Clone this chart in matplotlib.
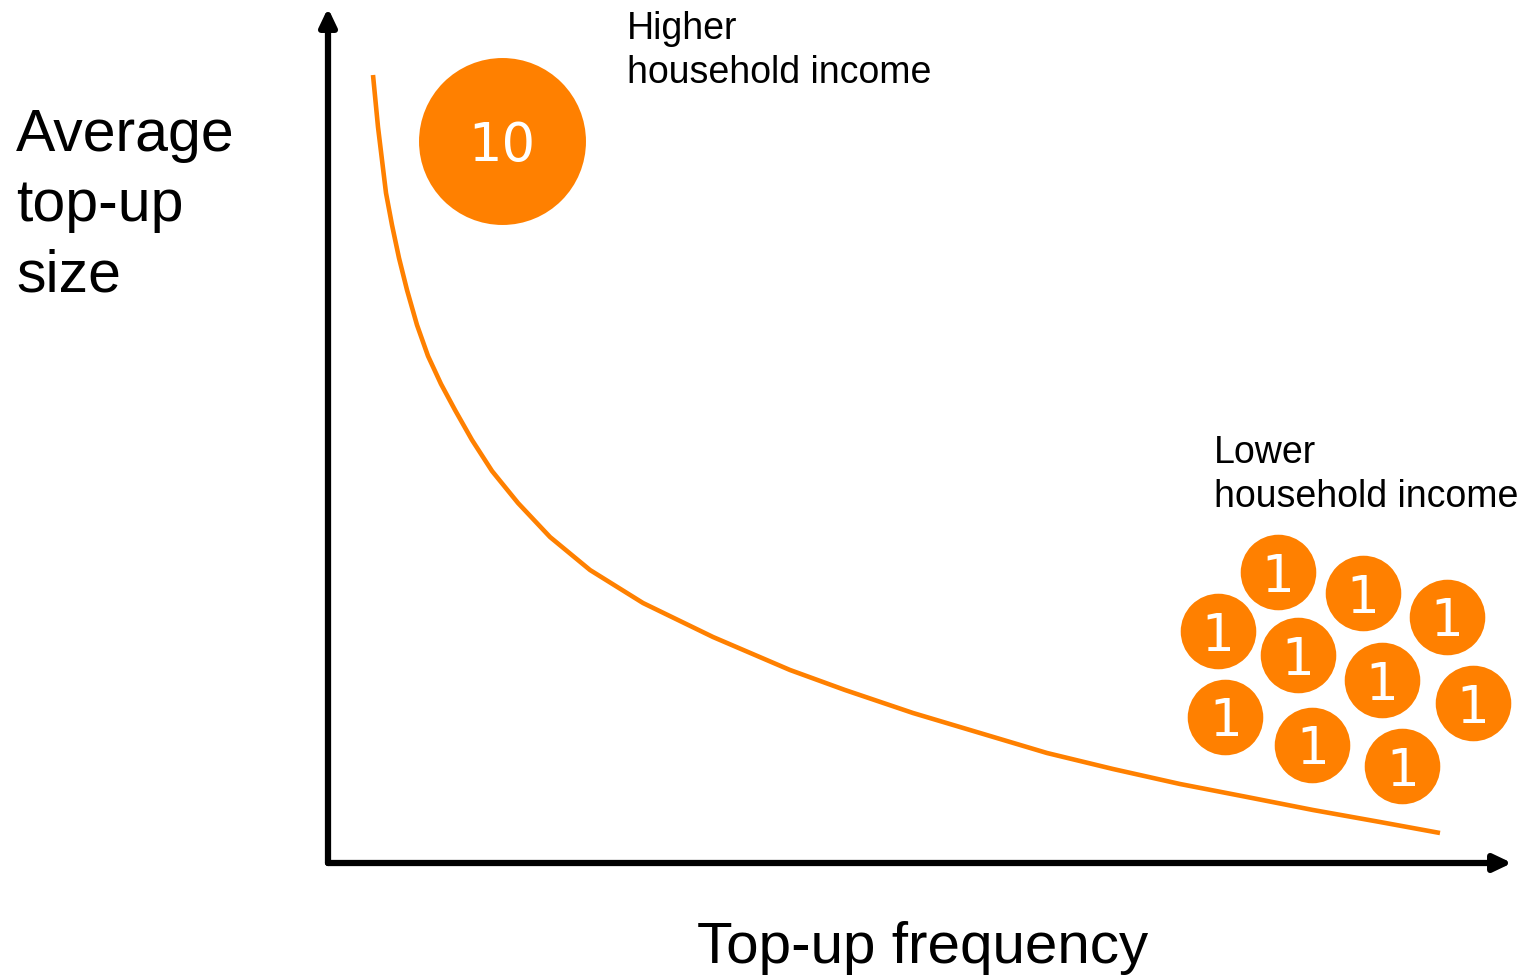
import numpy as np
import matplotlib.pyplot as plt

plt.rcParams['font.family'] = ['Liberation Sans', 'DejaVu Sans']

# curve (arbitrary units)
freq = [0.45, 0.50, 0.58, 0.64, 0.71, 0.79, 0.89, 1.00, 1.13, 1.27, 1.44, 1.64,
        1.90, 2.22, 2.62, 3.15, 3.85, 4.62, 5.17, 5.85, 6.52, 7.19, 7.85, 8.52,
        9.19, 9.85, 10.52, 11.12]
size = [7.88, 7.36, 6.70, 6.38, 6.05, 5.73, 5.38, 5.07, 4.79, 4.53, 4.23, 3.92,
        3.60, 3.26, 2.93, 2.60, 2.26, 1.93, 1.73, 1.50, 1.30, 1.10, 0.94, 0.79,
        0.66, 0.53, 0.41, 0.30]

# coins
big_x = [1.735]
big_y = [7.225]
big_label = ['10']
small_x = [9.50, 10.35, 11.19, 8.90, 9.70, 10.54, 11.45, 8.975, 9.845, 10.745]
small_y = [2.91, 2.70, 2.465, 2.32, 2.08, 1.83, 1.60, 1.465, 1.185, 0.97]
small_label = ['1'] * len(small_x)

orange = '#FF8000'
W, H = 1519, 975

fig = plt.figure(figsize=(W / 100, H / 100), dpi=100)
ax = fig.add_axes([328 / W, (H - 863) / H, 1184 / W, 855 / H])
ax.set_xlim(0, 11.84)
ax.set_ylim(0, 8.55)
for s in ax.spines.values():
    s.set_visible(False)
ax.set_xticks([])
ax.set_yticks([])
ax.patch.set_alpha(0)

# axis arrows
arrow = dict(arrowstyle='-|>,head_length=1.05,head_width=0.5', lw=4.5, color='black',
             mutation_scale=10, shrinkA=0, shrinkB=0)
ax.annotate('', xy=(0, 1), xytext=(0, 0), xycoords='axes fraction', arrowprops=arrow)
ax.annotate('', xy=(1, 0), xytext=(0, 0), xycoords='axes fraction', arrowprops=arrow)

ax.plot(freq, size, color=orange, lw=3.3, solid_capstyle='butt',
        solid_joinstyle='round', clip_on=False)

ax.scatter(big_x, big_y, s=14450, color=orange, linewidths=0, clip_on=False, zorder=3)
ax.scatter(small_x, small_y, s=2960, color=orange, linewidths=0, clip_on=False, zorder=3)
for x, y, t in zip(big_x, big_y, big_label):
    ax.text(x, y - 0.21, t, color='white', fontsize=38, ha='center', va='baseline',
            family='DejaVu Sans', zorder=4)
for x, y, t in zip(small_x, small_y, small_label):
    ax.text(x, y - 0.20, t, color='white', fontsize=37, ha='center', va='baseline',
            family='DejaVu Sans', zorder=4)


def line(x, base, txt, fs):
    fig.text(x / W, 1 - base / H, txt, fontsize=fs, ha='left', va='baseline')


line(16, 151, 'Average', 42.5)
line(16, 221, 'top-up', 42.5)
line(16, 291, 'size', 42.5)
line(697, 963, 'Top-up frequency', 42)
line(627, 39, 'Higher', 27)
line(627, 83, 'household income', 27)
line(1214, 463, 'Lower', 27)
line(1214, 507, 'household income', 27)

fig.savefig('out.png', dpi=100)
